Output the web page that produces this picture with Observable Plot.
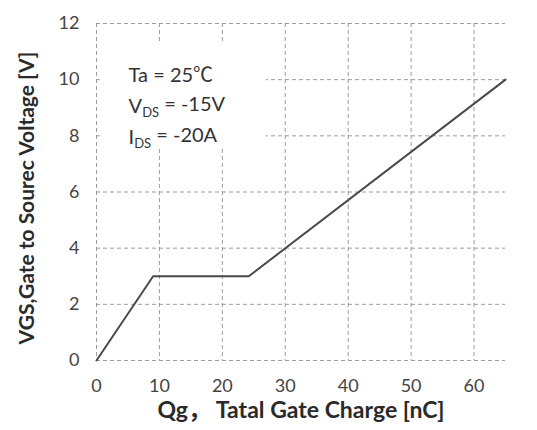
<!DOCTYPE html>
<html>
<head>
<meta charset="utf-8">
<script src="https://cdn.jsdelivr.net/npm/d3@7"></script>
<script src="https://cdn.jsdelivr.net/npm/@observablehq/plot@0.6"></script>
<style>
  html, body { margin: 0; padding: 0; background: #ffffff; }
  #chart { width: 537px; height: 430px; }
</style>
</head>
<body>
<div id="chart"></div>
<script>
// Gate charge curve
const qg = [0, 9, 24.2, 65];
const vgs = [0, 3, 3, 10];
const xTicks = [0, 10, 20, 30, 40, 50, 60];
const yTicks = [0, 2, 4, 6, 8, 10, 12];
const noteText = ["Ta = 25℃", "V_DS = -15V", "I_DS = -20A"];
const noteQ = [5.1, 5.1, 5.1];
const noteV = [10.15, 9.05, 7.95];
const noteBoxQ = [0.6, 27];
const noteBoxV = [7.55, 11.3];
const xLabel = "Qg， Tatal Gate Charge [nC]";
const yLabel = "VGS,Gate to Sourec Voltage [V]";

const curve = qg.map((q, i) => ({q, v: vgs[i]}));
const notes = noteText.map((t, i) => ({t, q: noteQ[i], v: noteV[i]}));
const box = [{x1: noteBoxQ[0], x2: noteBoxQ[1], y1: noteBoxV[0], y2: noteBoxV[1]}];

const chart = Plot.plot({
  width: 537,
  height: 430,
  marginLeft: 96,
  marginRight: 32,
  marginTop: 23,
  marginBottom: 70,
  style: {fontFamily: "Lato, 'Noto Sans CJK SC', sans-serif", background: "#ffffff", color: "#333"},
  x: {domain: [0, 65]},
  y: {domain: [0, 12]},
  marks: [
    Plot.gridX(xTicks, {stroke: "#8a8a8a", strokeOpacity: 0.85, strokeDasharray: "4,3"}),
    Plot.gridY(yTicks, {stroke: "#8a8a8a", strokeOpacity: 0.85, strokeDasharray: "4,3"}),
    Plot.rect(box, {x1: "x1", x2: "x2", y1: "y1", y2: "y2", fill: "#ffffff"}),
    Plot.axisX(xTicks, {tickSize: 0, tickPadding: 19, fontSize: 18, fill: "#444", label: null}),
    Plot.axisY(yTicks, {tickSize: 0, tickPadding: 17, fontSize: 18, fill: "#444", label: null}),
    Plot.line(curve, {x: "q", y: "v", stroke: "#4a4a4a", strokeWidth: 2}),
    Plot.text(notes, {x: "q", y: "v", text: "t", textAnchor: "start", fontSize: 20, fill: "#333", className: "notes"}),
    Plot.text([xLabel], {frameAnchor: "bottom", dy: 57, fontSize: 23, fontWeight: "bold", fill: "#2a2a2a"}),
    Plot.text([yLabel], {frameAnchor: "left", textAnchor: "middle", dx: -69, dy: 6, rotate: -90, fontSize: 21, fontWeight: "bold", fill: "#2a2a2a"})
  ]
});

document.getElementById("chart").appendChild(chart);

// render subscripts in the notes
d3.select(chart).selectAll("g.notes text").each(function() {
  const t = this.textContent;
  const m = t.match(/^(\w)_(\w+)(.*)$/);
  if (!m) return;
  const sel = d3.select(this);
  sel.text(null);
  sel.append("tspan").text(m[1]);
  sel.append("tspan").attr("dy", "0.3em").attr("font-size", "13").text(m[2]);
  sel.append("tspan").attr("dy", "-0.3em").text(m[3]);
});
</script>
</body>
</html>
